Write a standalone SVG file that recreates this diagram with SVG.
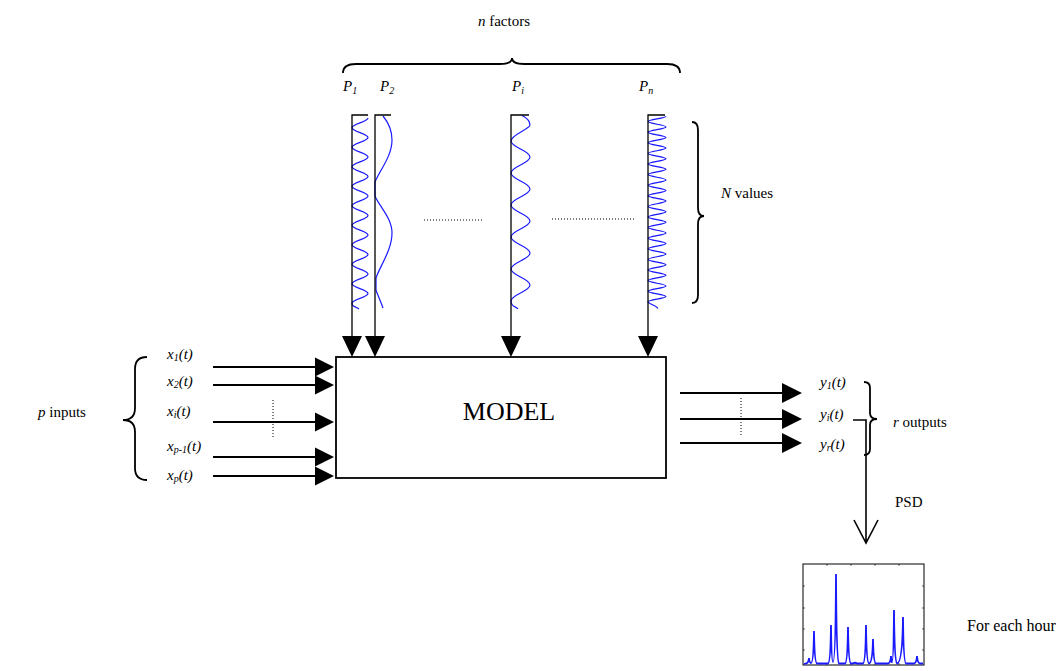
<svg xmlns="http://www.w3.org/2000/svg" width="1061" height="671" viewBox="0 0 1061 671">
<defs>
<style>
text{font-family:"Liberation Serif","Times New Roman",serif;fill:#000;font-size:15px}
.it{font-style:italic}
.sub{font-size:10px}
.wave{fill:none;stroke:#1a1aff;stroke-width:1.2}
.vline{fill:none;stroke:#000;stroke-width:1.3}
.hline{fill:none;stroke:#000;stroke-width:2}
.brace{fill:none;stroke:#000;stroke-width:1.8}
.dot{fill:none;stroke:#000;stroke-width:1;stroke-dasharray:1,2}
.head{fill:#000}
</style>
</defs>
<rect width="1061" height="671" fill="#fff"/>

<g id="factors-label">
<text x="504" y="26" text-anchor="middle"><tspan class="it">n</tspan> factors</text>
<path class="brace" d="M343,73 Q343,64 356,64 L500,64 Q512,64 512,58 Q512,64 524,64 L667,64 Q680,64 680,73"/>
</g>

<g id="P1">
<text x="343" y="91" class="it">P<tspan class="sub" dy="3">1</tspan></text>
<path class="wave" d="M368,118 C368,121.9 352,123.85 352,127.75 S368,133.6 368,137.5 S352,143.35 352,147.25 S368,153.1 368,157 S352,162.85 352,166.75 S368,172.6 368,176.5 S352,182.35 352,186.25 S368,192.1 368,196 S352,201.85 352,205.75 S368,211.6 368,215.5 S352,221.35 352,225.25 S368,231.1 368,235 S352,240.85 352,244.75 S368,250.6 368,254.5 S352,260.35 352,264.25 S368,270.1 368,274 S352,279.85 352,283.75 S368,289.6 368,293.5 S352,299.35 352,303.25 S357,307 359,309"/>
</g>
<g id="P2">
<text x="380" y="91" class="it">P<tspan class="sub" dy="3">2</tspan></text>
<path class="wave" d="M383,116 C388,122 392,130 392,140 C392,156 380,170 375,182 L375,196 C379,206 392,218 392,233 C392,250 380,266 376,278 L376,290 C378,296 381,302 383,308"/>
</g>
<g id="Pi">
<text x="512" y="91" class="it">P<tspan class="sub" dy="3">i</tspan></text>
<path class="wave" d="M522,115.5 C527,118 530,121 530,125 S511,134.6 511,141 S530,150.6 530,157 S511,166.6 511,173 S530,182.6 530,189 S511,198.6 511,205 S530,214.6 530,221 S511,230.6 511,237 S530,246.6 530,253 S511,262.6 511,269 S530,278.6 530,285 S511,294.6 511,301 S516,306 518,309"/>
</g>
<g id="Pn">
<text x="639" y="91" class="it">P<tspan class="sub" dy="3">n</tspan></text>
<path class="wave" d="M666,116.3 C666,118.4 648,119.5 648,121.6 S666,124.8 666,126.9 S648,130.1 648,132.2 S666,135.4 666,137.5 S648,140.7 648,142.8 S666,146 666,148.1 S648,151.3 648,153.4 S666,156.6 666,158.7 S648,161.9 648,164 S666,167.2 666,169.3 S648,172.5 648,174.6 S666,177.8 666,179.9 S648,183.1 648,185.2 S666,188.4 666,190.5 S648,193.7 648,195.8 S666,199 666,201.1 S648,204.3 648,206.4 S666,209.6 666,211.7 S648,214.9 648,217 S666,220.2 666,222.3 S648,225.5 648,227.6 S666,230.8 666,232.9 S648,236.1 648,238.2 S666,241.4 666,243.5 S648,246.7 648,248.8 S666,252 666,254.1 S648,257.3 648,259.4 S666,262.6 666,264.7 S648,267.9 648,270 S666,273.2 666,275.3 S648,278.5 648,280.6 S666,283.8 666,285.9 S648,289.1 648,291.2 S666,294.4 666,296.5 S648,299.7 648,301.8 S656,305 658,308.5"/>
</g>

<g id="values-label">
<path class="brace" d="M692,122 Q698,122 698,130 L698,208 Q698,216 704,216 Q698,216 698,224 L698,295 Q698,303 692,303"/>
<text x="721" y="198"><tspan class="it">N</tspan> values</text>
</g>

<g id="model">
<rect x="336" y="357" width="330" height="121" fill="#fff" stroke="#000" stroke-width="1.8"/>
<text x="509" y="420" text-anchor="middle" style="font-size:26px">MODEL</text>
</g>

<g id="inputs">
<path class="brace" d="M147,357 Q135,357 135,369 L135,408 Q135,420 123,420 Q135,420 135,432 L135,468 Q135,480 147,480"/>
<text x="38" y="417"><tspan class="it">p</tspan> inputs</text>
<text x="167" y="359" class="it">x<tspan class="sub" dy="2">1</tspan><tspan dy="-2">(t)</tspan></text>
<text x="167" y="386" class="it">x<tspan class="sub" dy="2">2</tspan><tspan dy="-2">(t)</tspan></text>
<text x="167" y="416" class="it">x<tspan class="sub" dy="2">i</tspan><tspan dy="-2">(t)</tspan></text>
<text x="167" y="451" class="it">x<tspan class="sub" dy="2">p-1</tspan><tspan dy="-2">(t)</tspan></text>
<text x="167" y="480" class="it">x<tspan class="sub" dy="2">p</tspan><tspan dy="-2">(t)</tspan></text>
</g>

<g id="outputs">
<text x="820" y="387" class="it">y<tspan class="sub" dy="2">1</tspan><tspan dy="-2">(t)</tspan></text>
<text x="820" y="419" class="it">y<tspan class="sub" dy="2">i</tspan><tspan dy="-2">(t)</tspan></text>
<text x="820" y="449" class="it">y<tspan class="sub" dy="2">r</tspan><tspan dy="-2">(t)</tspan></text>
<path class="brace" d="M864,382 Q870,382 870,388 L870,413 Q870,419 877,419 Q870,419 870,425 L870,449 Q870,455 864,455"/>
<text x="893" y="427"><tspan class="it">r</tspan> outputs</text>
</g>

<g id="psd-label">
<text x="895" y="507">PSD</text>
</g>

<g id="psd-plot">
<rect x="803" y="564" width="121" height="101" fill="#fff" stroke="#000" stroke-width="1"/>
<path fill="none" stroke="#000" stroke-width="0.6" d="M803,586 h2 M803,608 h2 M803,629 h2 M803,650 h2 M922,586 h2 M922,608 h2 M922,629 h2 M922,650 h2 M827,665 v-2 M851,665 v-2 M875,665 v-2 M899,665 v-2 M827,564 v2 M851,564 v2 M875,564 v2 M899,564 v2"/>
<path fill="none" stroke="#1a1aff" stroke-width="1.8" d="M804,664 L806,663.5 Q808.5,663 809,658 Q809.5,663 811,663 Q813.5,663 814,631 Q814.5,663 817,663.5 L828,663.5 Q830.5,663 831,625 Q831.5,662 833,662 Q835.5,662 836,574 Q836.5,662 839,663.5 L845,663.5 Q847.5,663 848,627 Q848.5,663 851,663.5 L853,663.5 Q855,662 857,663.5 L863,663.5 Q865.5,663 866,625 Q866.5,663 869,663.5 Q872.5,663 873,639 Q873.5,663 876,663.5 L888,663.5 Q890.5,663 891,656 Q891.5,663 892,662 Q893.5,662 894,610 Q894.5,662 897,663.5 Q902.5,663 903,617 Q903.5,663 906,663.5 L914,663.5 Q916.5,663 917,656 Q917.5,663 920,663.5 L923,663.5"/>
</g>

<g id="for-each-hour">
<text x="967" y="631" style="font-size:16px">For each hour</text>
</g>

<g id="connectors">
<path class="vline" d="M368,115 H352 V337 M391,115 H375 V337 M529,115 H511 V337 M665,115 H648 V337"/>
<path class="head" d="M342,336 h20 l-10,21 z M365,336 h20 l-10,21 z M501,336 h20 l-10,21 z M638,336 h20 l-10,21 z"/>
<path class="dot" d="M424,220 H484 M552,219 H635"/>
<path class="hline" d="M213,367 H317 M213,385 H317 M213,422 H317 M213,457 H317 M213,476 H317"/>
<path class="head" d="M315,357.5 v19 l19,-9.5 z M315,375.5 v19 l19,-9.5 z M315,412.5 v19 l19,-9.5 z M315,447.5 v19 l19,-9.5 z M315,466.5 v19 l19,-9.5 z"/>
<path class="dot" d="M273,400 V439"/>
<path class="hline" d="M680,393 H784 M680,419 H784 M680,443 H784"/>
<path class="head" d="M782,383 v20 l20,-10 z M782,409 v20 l20,-10 z M782,433 v20 l20,-10 z"/>
<path class="dot" d="M741,398 V435"/>
<path fill="none" stroke="#000" stroke-width="1.6" d="M853,420 H866 V542 M854,520 L866,543 L878,520"/>
</g>
</svg>
